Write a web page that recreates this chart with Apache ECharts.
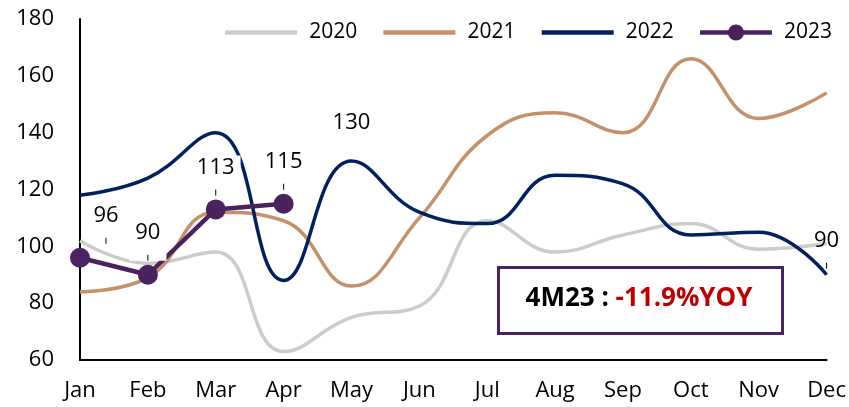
<!DOCTYPE html>
<html>
<head>
<meta charset="utf-8">
<script src="https://cdn.jsdelivr.net/npm/echarts@6/dist/echarts.min.js"></script>
<style>
  html, body { margin: 0; padding: 0; background: #fff; }
  #chart { width: 849px; height: 407px; }
</style>
</head>
<body>
<div id="chart"></div>
<script>
// months
const months = ['Jan', 'Feb', 'Mar', 'Apr', 'May', 'Jun', 'Jul', 'Aug', 'Sep', 'Oct', 'Nov', 'Dec'];

// yearly series
const data2020 = [102, 94, 98, 63, 75, 79, 109, 98, 104, 108, 99, 101];
const data2021 = [84, 89, 112, 109, 86, 110, 139, 147, 140, 166, 145, 154];
const data2022 = [118, 124, 140, 88, 130, 112, 108, 125, 122, 104, 105, 90];
const data2023 = [96, 90, 113, 115];

// which 2022 points get a label
const labelled2022 = [4, 11];

const yTicks = { min: 60, max: 180, interval: 20 };
const noteLeft = '4M23 : ';
const noteRight = '-11.9%YOY';

const fontFamily = '"Open Sans", "Noto Sans", sans-serif';

const myChart = echarts.init(document.getElementById('chart'));

// small leader tick under the value labels
const tickRich = {
  v: { fontSize: 22, color: '#000', fontFamily: fontFamily, lineHeight: 24 },
  s: { fontSize: 4, lineHeight: 10 },
  t: { width: 1, height: 6, lineHeight: 6, fontSize: 1, backgroundColor: '#000' }
};
const tickFormatter = p => '{v|' + p.value + '}\n{s| }\n{t| }';

const labelOffsets2023 = [[26, 0], [0, 0], [0, 0], [0, 0]];

let option = {
  animation: false,
  textStyle: { fontFamily: fontFamily },
  grid: { left: 80, right: 19, top: 19, bottom: 47 },
  legend: {
    right: 12,
    top: 17,
    itemWidth: 72,
    itemHeight: 20,
    itemGap: 24,
    lineStyle: { width: 4.5 },
    textStyle: { fontSize: 21, color: '#000', fontFamily: fontFamily, padding: [0, 0, 0, 7] },
    data: [
      { name: '2020', itemStyle: { opacity: 0 } },
      { name: '2021', itemStyle: { opacity: 0 } },
      { name: '2022', itemStyle: { opacity: 0 } },
      { name: '2023' }
    ]
  },
  xAxis: {
    type: 'category',
    boundaryGap: false,
    data: months,
    axisLine: { lineStyle: { color: '#000', width: 2 } },
    axisTick: { show: false },
    axisLabel: { color: '#000', fontSize: 22, margin: 20 }
  },
  yAxis: {
    type: 'value',
    min: yTicks.min,
    max: yTicks.max,
    interval: yTicks.interval,
    axisLine: { show: true, lineStyle: { color: '#000', width: 2 } },
    axisTick: { show: false },
    splitLine: { show: false },
    axisLabel: { color: '#000', fontSize: 22, margin: 26 }
  },
  series: [
    {
      name: '2020',
      type: 'line',
      smooth: 0.45,
      symbol: 'none',
      data: data2020,
      lineStyle: { color: '#CCCCCC', width: 3.5 },
      itemStyle: { color: '#CCCCCC' }
    },
    {
      name: '2021',
      type: 'line',
      smooth: 0.45,
      symbol: 'none',
      data: data2021,
      lineStyle: { color: '#C4916A', width: 3.5 },
      itemStyle: { color: '#C4916A' }
    },
    {
      name: '2022',
      type: 'line',
      smooth: 0.45,
      symbol: 'circle',
      symbolSize: 0,
      showAllSymbol: true,
      data: data2022.map((v, i) => {
        if (labelled2022.indexOf(i) < 0) return v;
        return {
          value: v,
          label: {
            show: true,
            position: 'top',
            distance: 6,
            formatter: i === 11 ? tickFormatter : '{v|{c}}\n{s| }\n{s| }',
            rich: tickRich
          }
        };
      }),
      lineStyle: { color: '#002060', width: 3.5 },
      itemStyle: { color: '#002060' }
    },
    {
      name: '2023',
      type: 'line',
      symbol: 'circle',
      symbolSize: 20,
      z: 5,
      data: data2023.map((v, i) => ({
        value: v,
        label: { offset: labelOffsets2023[i] }
      })),
      lineStyle: { color: '#4B2260', width: 4.5 },
      itemStyle: { color: '#4B2260' },
      label: {
        show: true,
        position: 'top',
        distance: 4,
        formatter: tickFormatter,
        rich: tickRich,
        backgroundColor: '#fff',
        padding: [0, 6, 0, 6]
      }
    }
  ],
  graphic: [
    {
      type: 'rect',
      left: 497,
      top: 266,
      shape: { width: 284, height: 66 },
      style: { fill: '#fff', stroke: '#4B2260', lineWidth: 3 },
      z: 10
    },
    {
      type: 'text',
      x: 639,
      y: 299,
      z: 11,
      style: {
        text: '{a|' + noteLeft + '}{b|' + noteRight + '}',
        align: 'center',
        verticalAlign: 'middle',
        rich: {
          a: { fontSize: 26, fontWeight: 'bold', fill: '#000', fontFamily: fontFamily },
          b: { fontSize: 26, fontWeight: 'bold', fill: '#C00000', fontFamily: fontFamily }
        }
      }
    }
  ]
};

option && myChart.setOption(option);
</script>
</body>
</html>
